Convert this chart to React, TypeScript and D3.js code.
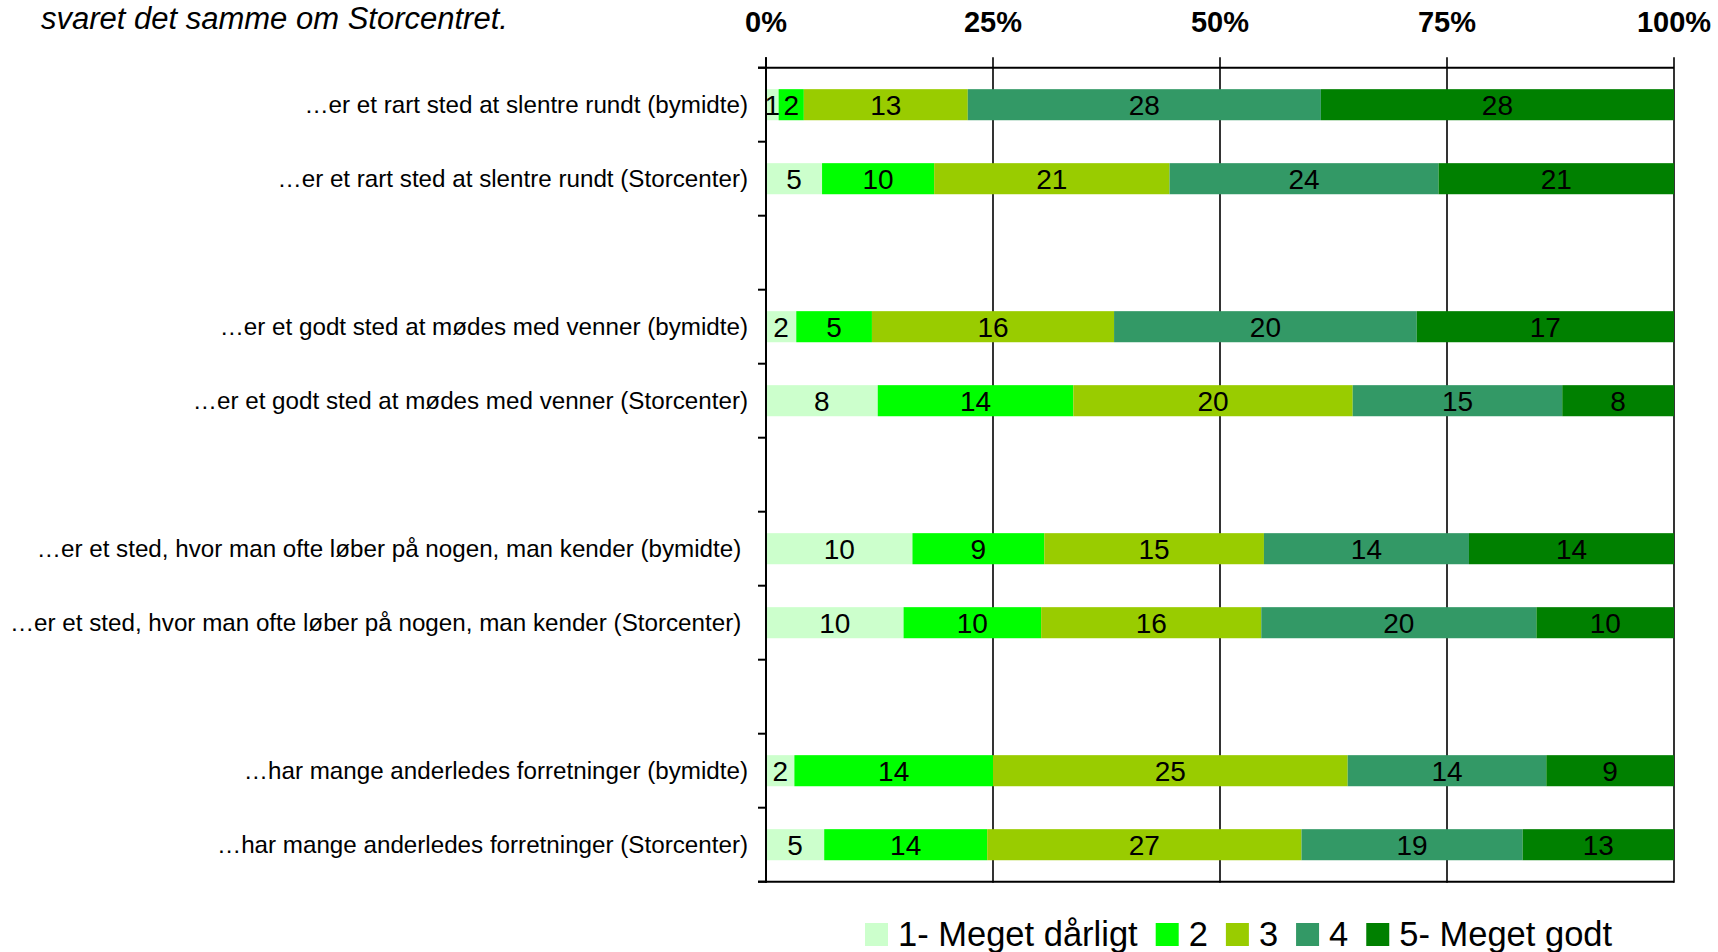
import React from "react";
import * as d3 from "d3";

const titleText = "svaret det samme om Storcentret.";

const categories = [
  "…er et rart sted at slentre rundt (bymidte)",
  "…er et rart sted at slentre rundt (Storcenter)",
  "…er et godt sted at mødes med venner (bymidte)",
  "…er et godt sted at mødes med venner (Storcenter)",
  "…er et sted, hvor man ofte løber på nogen, man kender (bymidte) ",
  "…er et sted, hvor man ofte løber på nogen, man kender (Storcenter) ",
  "…har mange anderledes forretninger (bymidte)",
  "…har mange anderledes forretninger (Storcenter)",
];

const seriesNames = ["1- Meget dårligt", "2", "3", "4", "5- Meget godt"];
const s1 = [1, 5, 2, 8, 10, 10, 2, 5];
const s2 = [2, 10, 5, 14, 9, 10, 14, 14];
const s3 = [13, 21, 16, 20, 15, 16, 25, 27];
const s4 = [28, 24, 20, 15, 14, 20, 14, 19];
const s5 = [28, 21, 17, 8, 14, 10, 9, 13];
const seriesValues = [s1, s2, s3, s4, s5];
const colors = ["#CCFFCC", "#00FF00", "#99CC00", "#339966", "#008000"];
const tickValues = [0, 0.25, 0.5, 0.75, 1];

const W = 1718;
const H = 952;
const FONT = '"Liberation Sans", Arial, Helvetica, sans-serif';

const margin = { left: 766, right: 44, top: 67.7, bottom: 70.3 };

function measure(text: string, font: string): number {
  const c = document.createElement("canvas");
  const ctx = c.getContext("2d");
  if (!ctx) return text.length * 15;
  ctx.font = font;
  return ctx.measureText(text).width;
}

export default function App() {
  const slotKeys: string[] = [];
  categories.forEach((_, i) => {
    slotKeys.push("r" + i);
    if (i % 2 === 1 && i < categories.length - 1) slotKeys.push("g" + i);
  });

  const x0 = margin.left;
  const x1 = W - margin.right;
  const y0 = margin.top;
  const y1 = H - margin.bottom;

  const x = d3.scaleLinear().domain([0, 1]).range([x0, x1]);
  const y = d3
    .scaleBand<string>()
    .domain(slotKeys)
    .range([y0, y1])
    .paddingInner(0.58)
    .paddingOuter(0.29);
  const step = y.step();
  const bh = y.bandwidth();

  const rows = categories.map((cat, i) => {
    const vals = seriesValues.map((s) => s[i]);
    const total = d3.sum(vals);
    let acc = 0;
    const segs = vals.map((v, k) => {
      const start = acc / total;
      acc += v;
      return { v, k, start, end: acc / total };
    });
    return { cat, key: "r" + i, segs };
  });

  const legFontSize = 34.5;
  const legFont = `${legFontSize}px ${FONT}`;
  const sw = 23;
  const swGap = 10;
  const itemGap = 18;
  let lx = 865;
  const legendItems = seriesNames.map((name, k) => {
    const item = { name, k, x: lx };
    lx += sw + swGap + measure(name, legFont) + itemGap;
    return item;
  });

  const boundaries = d3.range(slotKeys.length + 1).map((i) => y0 + i * step);

  return (
    <div style={{ position: "absolute", left: 0, top: 0 }}>
      <svg width={W} height={H} style={{ display: "block", background: "#fff" }}>
        <rect x={0} y={0} width={W} height={H} fill="#fff" />
        <text
          x={41}
          y={29}
          fontFamily={FONT}
          fontStyle="italic"
          fontSize={31}
          fill="#000"
        >
          {titleText}
        </text>

        {tickValues.map((t) => (
          <line
            key={"g" + t}
            x1={x(t)}
            x2={x(t)}
            y1={y0 - 10.5}
            y2={y1 + 1}
            stroke="#000"
            strokeWidth={1.6}
          />
        ))}

        {tickValues.map((t) => (
          <text
            key={"t" + t}
            x={x(t)}
            y={32}
            textAnchor="middle"
            fontFamily={FONT}
            fontWeight="bold"
            fontSize={29}
            fill="#000"
          >
            {d3.format(".0%")(t)}
          </text>
        ))}

        {rows.map((r) => (
          <g key={r.key}>
            {r.segs.map((s) => (
              <rect
                key={s.k}
                x={x(s.start)}
                y={y(r.key)!}
                width={x(s.end) - x(s.start)}
                height={bh}
                fill={colors[s.k]}
              />
            ))}
            {r.segs.map((s) => (
              <text
                key={"l" + s.k}
                x={(x(s.start) + x(s.end)) / 2}
                y={y(r.key)! + bh / 2 + 10}
                textAnchor="middle"
                fontFamily={FONT}
                fontSize={28}
                fill="#000"
              >
                {s.v}
              </text>
            ))}
            <text
              x={x0 - 18}
              y={y(r.key)! + bh / 2 + 8.5}
              textAnchor="end"
              fontFamily={FONT}
              fontSize={24.2}
              fill="#000"
              style={{ whiteSpace: "pre" }}
            >
              {r.cat}
            </text>
          </g>
        ))}

        <line x1={x0 - 8} x2={x1} y1={y0} y2={y0} stroke="#000" strokeWidth={2} />
        <line x1={x0 - 8} x2={x1} y1={y1} y2={y1} stroke="#000" strokeWidth={2} />
        <line x1={x0} x2={x0} y1={y0 - 10.5} y2={y1 + 1} stroke="#000" strokeWidth={2} />
        {boundaries.map((b, i) => (
          <line key={"b" + i} x1={x0 - 8} x2={x0} y1={b} y2={b} stroke="#000" strokeWidth={2} />
        ))}

        {legendItems.map((it) => (
          <g key={"leg" + it.k}>
            <rect x={it.x} y={923} width={sw} height={23} fill={colors[it.k]} />
            <text
              x={it.x + sw + swGap}
              y={946}
              fontFamily={FONT}
              fontSize={legFontSize}
              fill="#000"
            >
              {it.name}
            </text>
          </g>
        ))}
      </svg>
    </div>
  );
}
